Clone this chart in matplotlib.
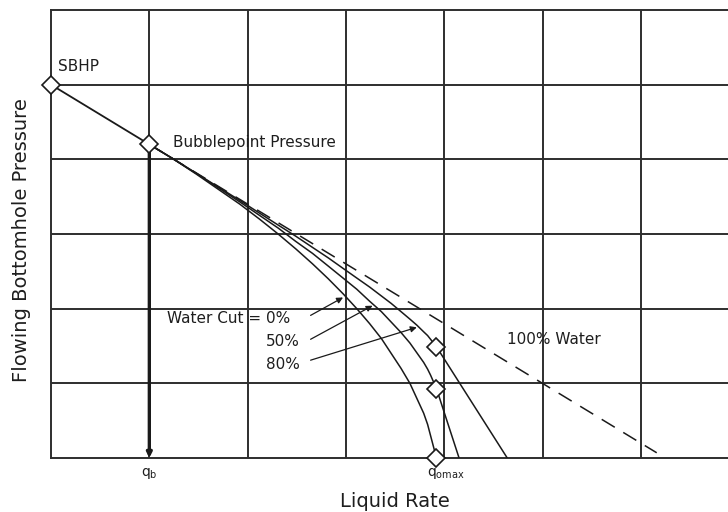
import matplotlib
matplotlib.use("Agg")
import matplotlib.pyplot as plt

plt.rcParams["font.family"] = ["DejaVu Sans"]
plt.rcParams["mathtext.fontset"] = "dejavusans"

# Reservoir and bubblepoint states (grid units)
sbhp_q, sbhp_p = 0.00, 5.00
qb, pb = 1.00, 4.20
qomax = 3.92

# Single-phase straight line from SBHP down to bubblepoint
single_q = [0.00, 1.00]
single_p = [5.00, 4.20]

# 100% water: straight-line IPR continued below bubblepoint
water100_q = [1.00, 6.16]
water100_p = [4.20, 0.07]

# Water cut = 0% (oil only)
wc0_q = [1.00, 1.25, 1.48, 1.70, 1.92, 2.12, 2.31, 2.49, 2.66, 2.82, 2.97, 3.11,
         3.24, 3.36, 3.46, 3.56, 3.65, 3.72, 3.79, 3.83, 3.86, 3.89, 3.92]
wc0_p = [4.20, 4.00, 3.80, 3.60, 3.40, 3.20, 3.00, 2.80, 2.60, 2.40, 2.20, 2.00,
         1.80, 1.60, 1.40, 1.20, 1.00, 0.80, 0.60, 0.45, 0.30, 0.15, 0.00]

# Water cut = 50%
wc50_q = [1.00, 1.25, 1.48, 1.70, 1.92, 2.12, 2.31, 2.49, 2.66, 2.82, 2.97, 3.11,
          3.24, 3.36, 3.46, 3.56, 3.65, 3.72, 3.79, 3.83, 3.86, 3.89, 3.92, 4.15]
wc50_p = [4.20, 4.00, 3.81, 3.62, 3.43, 3.25, 3.08, 2.90, 2.74, 2.57, 2.41, 2.26,
          2.10, 1.96, 1.82, 1.68, 1.54, 1.41, 1.28, 1.19, 1.11, 1.02, 0.93, 0.00]

# Water cut = 80%
wc80_q = [1.00, 1.25, 1.48, 1.70, 1.92, 2.12, 2.31, 2.49, 2.66, 2.82, 2.97, 3.11,
          3.24, 3.36, 3.46, 3.56, 3.65, 3.72, 3.79, 3.83, 3.86, 3.89, 3.92, 4.64]
wc80_p = [4.20, 4.00, 3.81, 3.63, 3.45, 3.28, 3.12, 2.97, 2.82, 2.68, 2.54, 2.41,
          2.29, 2.17, 2.07, 1.96, 1.86, 1.78, 1.69, 1.64, 1.59, 1.54, 1.49, 0.00]

# Diamonds marking qomax on each curve
qomax_marks_q = [3.92, 3.92, 3.92]
qomax_marks_p = [0.00, 0.93, 1.49]

tick_labels = [r"$\mathregular{q_b}$", r"$\mathregular{q_{omax}}$"]

W, H, DPI = 728, 512, 100
fig = plt.figure(figsize=(W / DPI, H / DPI), dpi=DPI)
ax = fig.add_axes([51 / W, 54 / H, 1 - 51 / W, (458 - 10) / H])

grid_color = "#2e2e2e"
line_color = "#1a1a1a"
text_color = "#1e1e1e"

ax.set_xlim(0, (W - 51) / 98.33)
ax.set_ylim(0, 6)
ax.set_xticks(range(1, 7))
ax.set_yticks(range(1, 6))
ax.tick_params(length=0, labelbottom=False, labelleft=False)
ax.grid(True, color=grid_color, linewidth=1.4)
for side in ("left", "bottom", "top"):
    ax.spines[side].set_color(grid_color)
    ax.spines[side].set_linewidth(1.4)
ax.spines["right"].set_visible(False)

# Curves
ax.plot(single_q, single_p, color=line_color, lw=1.3, zorder=3)
ax.plot(water100_q, water100_p, color=line_color, lw=1.1, dashes=(10, 6.5), zorder=3)
for q, p in ((wc0_q, wc0_p), (wc50_q, wc50_p), (wc80_q, wc80_p)):
    ax.plot(q, p, color=line_color, lw=1.1, zorder=3, solid_joinstyle="round")

# Vertical line at qb with arrow to the rate axis
ax.annotate("", xy=(qb, 0.0), xytext=(qb, pb),
            arrowprops=dict(arrowstyle="-|>", color=line_color, lw=2.4,
                            mutation_scale=7, shrinkA=0, shrinkB=0),
            zorder=3)

# Diamond markers
mk = dict(marker="D", ms=9, mfc="white", mec=line_color, mew=1.2, ls="none", zorder=5, clip_on=False)
ax.plot([sbhp_q, qb], [sbhp_p, pb], **mk)
ax.plot(qomax_marks_q, qomax_marks_p, **mk)

# Annotations
fs = 11
ax.text(0.07, 5.18, "SBHP", fontsize=fs, color=text_color, va="baseline")
ax.text(1.24, 4.16, "Bubblepoint Pressure", fontsize=fs, color=text_color, va="baseline")
ax.text(1.18, 1.81, "Water Cut = 0%", fontsize=fs, color=text_color, va="baseline")
ax.text(2.19, 1.50, "50%", fontsize=fs, color=text_color, va="baseline")
ax.text(2.19, 1.19, "80%", fontsize=fs, color=text_color, va="baseline")
ax.text(4.64, 1.53, "100% Water", fontsize=fs, color=text_color, va="baseline")

arrow_kw = dict(arrowstyle="-|>", color=line_color, lw=0.9, mutation_scale=9, shrinkA=0, shrinkB=0)
for tail, head in (((2.64, 1.91), (2.97, 2.15)),
                   ((2.64, 1.59), (3.27, 2.04)),
                   ((2.64, 1.31), (3.72, 1.75))):
    ax.annotate("", xy=head, xytext=tail, arrowprops=arrow_kw, zorder=4)

# Rate labels under the axis
ax.annotate(tick_labels[0], xy=(qb, 0), xytext=(0, -8), textcoords="offset pixels",
            ha="center", va="top", fontsize=10, color=text_color, annotation_clip=False)
ax.annotate(tick_labels[1], xy=(qomax, 0), xytext=(-9, -8), textcoords="offset pixels",
            ha="left", va="top", fontsize=10, color=text_color, annotation_clip=False)

fig.text(395 / W, (H - 507) / H, "Liquid Rate", fontsize=14, color=text_color,
         ha="center", va="baseline")
fig.text(22 / W, (H - 240) / H, "Flowing Bottomhole Pressure", fontsize=14, color=text_color,
         rotation=90, ha="center", va="center")

fig.savefig("out.png", dpi=DPI)
